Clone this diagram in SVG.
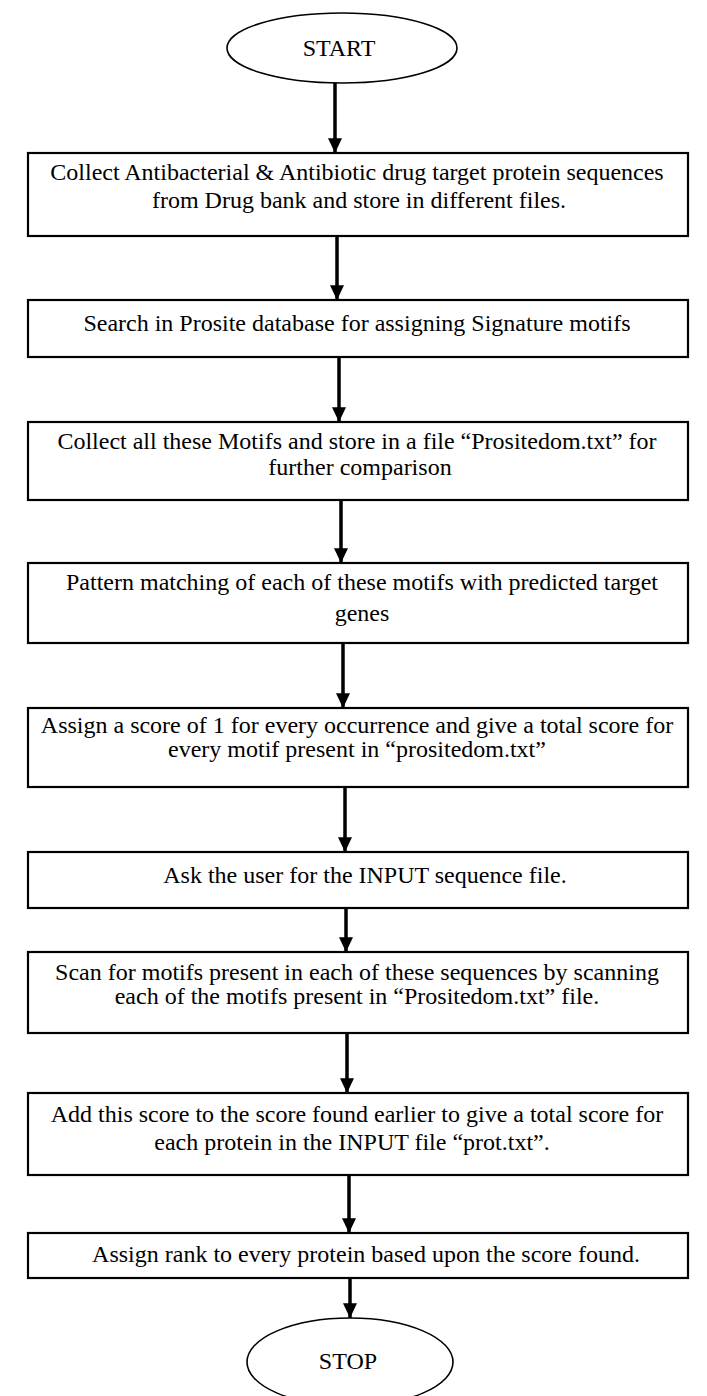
<svg xmlns="http://www.w3.org/2000/svg" width="707" height="1396" viewBox="0 0 707 1396">
  <style>
    .box { fill: #fff; stroke: #000; stroke-width: 2.2; }
    .term { fill: #fff; stroke: #000; stroke-width: 1.6; }
    .lbl { font-family: "Liberation Serif", "Times New Roman", serif; font-size: 24px; fill: #000; text-anchor: middle; }
    .conn { stroke: #000; stroke-width: 3.5; fill: none; marker-end: url(#head); }
  </style>
  <defs>
    <marker id="head" markerWidth="5" markerHeight="5" refX="4.2" refY="2" orient="auto" markerUnits="strokeWidth">
      <path d="M0,0 L4.2,2 L0,4 Z" fill="#000"/>
    </marker>
  </defs>
  <rect width="707" height="1396" fill="#fff"/>

  <g id="connectors">
    <line class="conn" x1="335" y1="83" x2="335" y2="153"/>
    <line class="conn" x1="337" y1="236" x2="337" y2="300"/>
    <line class="conn" x1="339" y1="357" x2="339" y2="422"/>
    <line class="conn" x1="341" y1="500" x2="341" y2="563"/>
    <line class="conn" x1="343" y1="643" x2="343" y2="708"/>
    <line class="conn" x1="345" y1="787" x2="345" y2="852"/>
    <line class="conn" x1="346" y1="908" x2="346" y2="952"/>
    <line class="conn" x1="347" y1="1033" x2="347" y2="1093"/>
    <line class="conn" x1="349" y1="1175" x2="349" y2="1233"/>
    <line class="conn" x1="350" y1="1278" x2="350" y2="1318"/>
  </g>

  <g id="start">
    <ellipse class="term" cx="342" cy="48" rx="115" ry="35"/>
    <text class="lbl" x="339" y="56">START</text>
  </g>

  <g id="collect-sequences">
    <rect class="box" x="28" y="153" width="660" height="83"/>
    <text class="lbl" x="357" y="180">Collect Antibacterial &amp; Antibiotic drug target protein sequences</text>
    <text class="lbl" x="359" y="208">from Drug bank and store in different files.</text>
  </g>

  <g id="search-prosite">
    <rect class="box" x="28" y="300" width="660" height="57"/>
    <text class="lbl" x="357" y="331">Search in Prosite database for assigning Signature motifs</text>
  </g>

  <g id="collect-motifs">
    <rect class="box" x="28" y="422" width="660" height="78"/>
    <text class="lbl" x="357" y="449">Collect all these Motifs and store in a file “Prositedom.txt” for</text>
    <text class="lbl" x="360" y="475">further comparison</text>
  </g>

  <g id="pattern-matching">
    <rect class="box" x="28" y="563" width="660" height="80"/>
    <text class="lbl" x="362" y="590">Pattern matching of each of these motifs with predicted target</text>
    <text class="lbl" x="362" y="621">genes</text>
  </g>

  <g id="assign-score">
    <rect class="box" x="28" y="708" width="660" height="79"/>
    <text class="lbl" x="357" y="733">Assign a score of 1 for every occurrence and give a total score for</text>
    <text class="lbl" x="357" y="757">every motif present in “prositedom.txt”</text>
  </g>

  <g id="ask-input">
    <rect class="box" x="28" y="852" width="660" height="56"/>
    <text class="lbl" x="365" y="883">Ask the user for the INPUT sequence file.</text>
  </g>

  <g id="scan-motifs">
    <rect class="box" x="28" y="952" width="660" height="81"/>
    <text class="lbl" x="357" y="980">Scan for motifs present in each of these sequences by scanning</text>
    <text class="lbl" x="357" y="1004">each of the motifs present in “Prositedom.txt” file.</text>
  </g>

  <g id="add-score">
    <rect class="box" x="28" y="1093" width="660" height="82"/>
    <text class="lbl" x="357" y="1122">Add this score to the score found earlier to give a total score for</text>
    <text class="lbl" x="352" y="1150">each protein in the INPUT file “prot.txt”.</text>
  </g>

  <g id="assign-rank">
    <rect class="box" x="28" y="1233" width="660" height="45"/>
    <text class="lbl" x="366" y="1262">Assign rank to every protein based upon the score found.</text>
  </g>

  <g id="stop">
    <ellipse class="term" cx="350" cy="1362" rx="103" ry="44"/>
    <text class="lbl" x="348" y="1369">STOP</text>
  </g>
</svg>
